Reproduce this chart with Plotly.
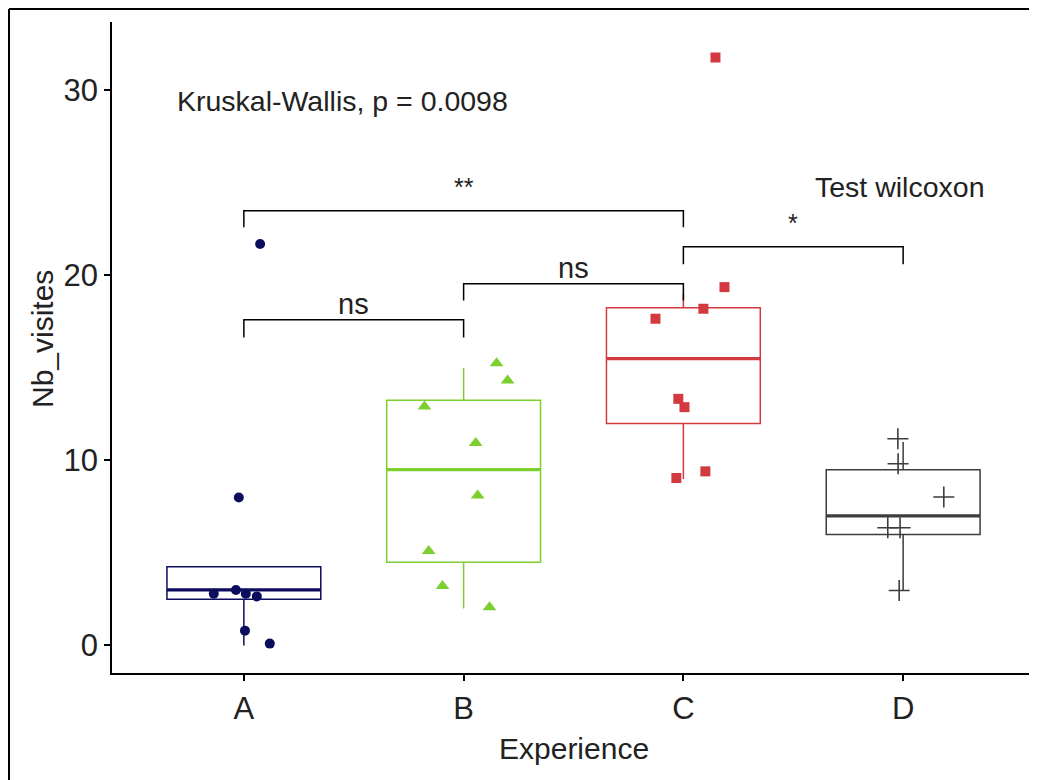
import plotly.graph_objects as go

# ---------------- data ----------------
groups = ["A", "B", "C", "D"]
colors = ["#0d0d5e", "#7dce2f", "#d33a40", "#3d3d3d"]
symbols = ["circle", "triangle-up", "square", "cross-thin"]

# box statistics
q1 = [2.5, 4.5, 12.0, 6.0]
median = [3.0, 9.5, 15.5, 7.0]
q3 = [4.25, 13.25, 18.25, 9.5]
lower_fence = [0.0, 2.0, 9.0, 3.0]
upper_fence = [4.25, 15.0, 19.0, 11.0]

# jittered points (value as drawn, horizontal jitter offset)
a_vals = [21.7, 8.0, 3.0, 2.8, 2.8, 2.65, 0.8, 0.1]
a_jit = [0.074, -0.023, -0.036, -0.137, 0.009, 0.059, 0.005, 0.118]
b_vals = [15.26, 14.32, 12.92, 10.94, 8.11, 5.10, 3.21, 2.07]
b_jit = [0.150, 0.200, -0.178, 0.055, 0.064, -0.159, -0.096, 0.118]
c_vals = [31.78, 19.37, 18.2, 17.66, 13.33, 12.88, 9.05, 9.41]
c_jit = [0.146, 0.187, 0.091, -0.127, -0.023, 0.005, -0.032, 0.100]
d_vals = [11.17, 9.82, 8.02, 6.36, 6.36, 2.97]
d_jit = [-0.024, -0.023, 0.185, -0.070, -0.014, -0.018]

point_vals = [a_vals, b_vals, c_vals, d_vals]
point_jit = [a_jit, b_jit, c_jit, d_jit]

# pairwise comparisons (wilcoxon)
comp_g1 = ["A", "B", "A", "C"]
comp_g2 = ["B", "C", "C", "D"]
comp_y = [17.6, 19.55, 23.5, 21.55]
comp_tip = [16.65, 18.65, 22.6, 20.6]
comp_label = ["ns", "ns", "**", "*"]

kw_text = "Kruskal-Wallis, p = 0.0098"
test_text = "Test wilcoxon"
x_title = "Experience"
y_title = "Nb_visites"

# ---------------- figure ----------------
# page body has an 8px margin, so the figure is 8px smaller than the window
W, H = 1029, 772
ML, MR, MT, MB = 104, 2, 14, 107
FONT = "Liberation Sans, Arial, sans-serif"
pw = W - ML - MR
ph = H - MT - MB

fig = go.Figure()

box_w = 0.7
for i, g in enumerate(groups):
    fig.add_trace(go.Box(
        x=[i], q1=[q1[i]], median=[median[i]], q3=[q3[i]],
        lowerfence=[lower_fence[i]], upperfence=[upper_fence[i]],
        width=box_w, whiskerwidth=0, boxpoints=False,
        line=dict(color=colors[i], width=1.5),
        fillcolor="rgba(255,255,255,0)", showlegend=False, hoverinfo="skip"))
    fig.add_trace(go.Scatter(
        x=[i - box_w / 2, i + box_w / 2], y=[median[i], median[i]],
        mode="lines", line=dict(color=colors[i], width=3.2),
        showlegend=False, hoverinfo="skip"))

sizes = [10, 12, 10, 15]
for i, g in enumerate(groups):
    xs = [i + j for j in point_jit[i]]
    marker = dict(color=colors[i], size=sizes[i], symbol=symbols[i])
    if symbols[i] == "cross-thin":
        marker["line"] = dict(color=colors[i], width=1.6)
    fig.add_trace(go.Scatter(x=xs, y=point_vals[i], mode="markers",
                             marker=marker, showlegend=False))

# brackets
for g1, g2, yb, yt, lab in zip(comp_g1, comp_g2, comp_y, comp_tip, comp_label):
    x1, x2 = groups.index(g1), groups.index(g2)
    fig.add_trace(go.Scatter(x=[x1, x1, x2, x2], y=[yt, yb, yb, yt],
                             mode="lines", line=dict(color="black", width=1.5),
                             showlegend=False, hoverinfo="skip"))
    star = "*" in lab
    fig.add_annotation(x=(x1 + x2) / 2, y=yb, text=lab, showarrow=False,
                       yanchor="bottom", yshift=8 if star else -2,
                       font=dict(family=FONT, size=25 if star else 29,
                                 color="#222222"))

fig.add_annotation(x=-0.296, y=29.45, text=kw_text, showarrow=False,
                   xanchor="left", yanchor="middle", xshift=-4,
                   font=dict(family=FONT, size=28.5, color="#222222"))
fig.add_annotation(x=2.604, y=24.8, text=test_text, showarrow=False,
                   xanchor="left", yanchor="middle", xshift=-3,
                   font=dict(family=FONT, size=28.5, color="#222222"))

# axis titles
fig.add_annotation(xref="paper", yref="paper", x=0.5, y=(664.5 - 740) / ph,
                   text=x_title, showarrow=False, xanchor="center",
                   yanchor="middle",
                   font=dict(family=FONT, size=30, color="#222222"))
fig.add_annotation(xref="paper", yref="paper", x=(34 - ML) / pw, y=0.513,
                   text=y_title, showarrow=False, textangle=-90,
                   xanchor="center", yanchor="middle",
                   font=dict(family=FONT, size=30, color="#222222"))

# outer frame: left and top edges
fx0 = (1 - ML) / pw
fy_top = 1 + (MT - 1) / ph
fy_bot = -(MB + 5) / ph
fig.add_shape(type="line", xref="paper", yref="paper",
              x0=fx0, x1=fx0, y0=fy_bot, y1=fy_top,
              line=dict(color="black", width=2))
fig.add_shape(type="line", xref="paper", yref="paper",
              x0=fx0, x1=(W + 5 - ML) / pw, y0=fy_top, y1=fy_top,
              line=dict(color="black", width=2))

fig.update_layout(
    width=W, height=H,
    margin=dict(l=ML, r=MR, t=MT, b=MB, autoexpand=False),
    paper_bgcolor="white", plot_bgcolor="white",
    font=dict(family=FONT, color="#222222"),
    showlegend=False,
    xaxis=dict(range=[-0.6, 3.6], tickvals=list(range(len(groups))),
               ticktext=groups, showgrid=False, zeroline=False,
               showline=True, linecolor="black", linewidth=1.5,
               ticks="outside", ticklen=6, tickwidth=1.5, tickcolor="black",
               tickfont=dict(size=31, color="#222222"),
               ticklabelstandoff=1),
    yaxis=dict(range=[-1.49, 33.7], tickvals=[0, 10, 20, 30],
               showgrid=False, zeroline=False,
               showline=True, linecolor="black", linewidth=1.5,
               ticks="outside", ticklen=6, tickwidth=1.5, tickcolor="black",
               tickfont=dict(size=31, color="#222222"),
               ticklabelstandoff=0),
)

fig.write_html("out.html")
